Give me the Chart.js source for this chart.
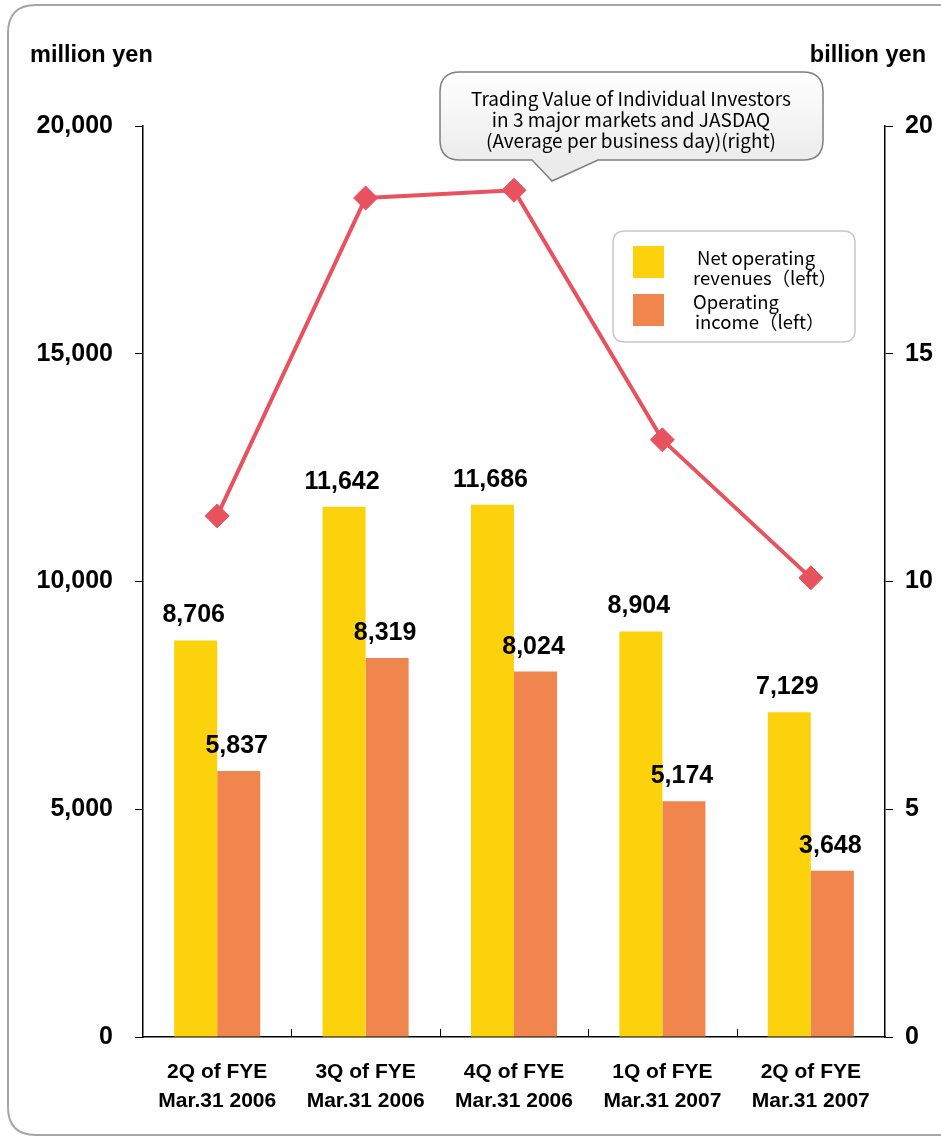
<!DOCTYPE html>
<html>
<head>
<meta charset="utf-8">
<script src="https://cdn.jsdelivr.net/npm/chart.js@4/dist/chart.umd.min.js"></script>
<style>
  html, body { margin: 0; padding: 0; background: #fff; }
  #wrap { width: 941px; height: 1137px; position: relative; }
</style>
</head>
<body>
<div id="wrap"><canvas id="chart"></canvas></div>
<script>
'use strict';

const categories = [
  ['2Q of FYE', 'Mar.31 2006'],
  ['3Q of FYE', 'Mar.31 2006'],
  ['4Q of FYE', 'Mar.31 2006'],
  ['1Q of FYE', 'Mar.31 2007'],
  ['2Q of FYE', 'Mar.31 2007']
];
const netRevenues = [8706, 11642, 11686, 8904, 7129];
const operatingIncome = [5837, 8319, 8024, 5174, 3648];
const tradingValue = [11.44, 18.42, 18.59, 13.11, 10.08];

const leftTicks = [0, 5000, 10000, 15000, 20000];
const rightTicks = [0, 5, 10, 15, 20];

const BOLD = 'bold 25px "Liberation Sans", Arial, sans-serif';
const JP_FONT = '"Noto Sans CJK JP", "Noto Sans", sans-serif';

function roundRect(ctx, x, y, w, h, r) {
  ctx.beginPath();
  ctx.moveTo(x + r, y);
  ctx.lineTo(x + w - r, y);
  ctx.quadraticCurveTo(x + w, y, x + w, y + r);
  ctx.lineTo(x + w, y + h - r);
  ctx.quadraticCurveTo(x + w, y + h, x + w - r, y + h);
  ctx.lineTo(x + r, y + h);
  ctx.quadraticCurveTo(x, y + h, x, y + h - r);
  ctx.lineTo(x, y + r);
  ctx.quadraticCurveTo(x, y, x + r, y);
  ctx.closePath();
}

// frame, axis titles, callout, legend, x tick marks
const decorPlugin = {
  id: 'decor',
  beforeDraw(chart) {
    const ctx = chart.ctx;
    ctx.save();
    ctx.strokeStyle = '#a6a6a6';
    ctx.lineWidth = 2;
    roundRect(ctx, 8, 5, 960, 1130, 28);
    ctx.stroke();
    ctx.restore();
  },
  afterDraw(chart) {
    const ctx = chart.ctx;
    const area = chart.chartArea;
    ctx.save();

    // axis titles
    ctx.fillStyle = '#000';
    ctx.font = 'bold 23.5px "Liberation Sans", Arial, sans-serif';
    ctx.textBaseline = 'alphabetic';
    ctx.textAlign = 'left';
    ctx.fillText('million yen', 30, 62);
    ctx.textAlign = 'right';
    ctx.fillText('billion yen', 926, 62);

    // x tick marks between categories, pointing up
    const xs = chart.scales.x;
    ctx.strokeStyle = '#000';
    ctx.lineWidth = 1;
    for (let i = 1; i < categories.length; i++) {
      const bx = Math.round((xs.getPixelForTick(i - 1) + xs.getPixelForTick(i)) / 2) + 0.5;
      ctx.beginPath();
      ctx.moveTo(bx, area.bottom);
      ctx.lineTo(bx, area.bottom - 8);
      ctx.stroke();
    }

    // callout for line series
    const cx = 440, cy = 72, cw = 383, ch = 88, cr = 20;
    ctx.beginPath();
    ctx.moveTo(cx + cr, cy);
    ctx.lineTo(cx + cw - cr, cy);
    ctx.quadraticCurveTo(cx + cw, cy, cx + cw, cy + cr);
    ctx.lineTo(cx + cw, cy + ch - cr);
    ctx.quadraticCurveTo(cx + cw, cy + ch, cx + cw - cr, cy + ch);
    ctx.lineTo(598, cy + ch);
    ctx.lineTo(552, 181);
    ctx.lineTo(532, cy + ch);
    ctx.lineTo(cx + cr, cy + ch);
    ctx.quadraticCurveTo(cx, cy + ch, cx, cy + ch - cr);
    ctx.lineTo(cx, cy + cr);
    ctx.quadraticCurveTo(cx, cy, cx + cr, cy);
    ctx.closePath();
    const grad = ctx.createLinearGradient(0, cy, 0, cy + ch);
    grad.addColorStop(0, '#ffffff');
    grad.addColorStop(1, '#ececec');
    ctx.fillStyle = grad;
    ctx.fill();
    ctx.strokeStyle = '#7f7f7f';
    ctx.lineWidth = 1.5;
    ctx.stroke();

    ctx.fillStyle = '#000';
    ctx.font = '19px ' + JP_FONT;
    ctx.textAlign = 'center';
    ctx.textBaseline = 'middle';
    ctx.fillText('Trading Value of Individual Investors', 631, 99);
    ctx.fillText('in 3 major markets and JASDAQ', 631, 120);
    ctx.fillText('(Average per business day)(right)', 631, 141);

    // legend box
    const lx = area.right - 30, ly = area.top + 105;
    ctx.strokeStyle = '#c8c8c8';
    ctx.lineWidth = 1.5;
    roundRect(ctx, lx - 242, ly, 242, 111, 12);
    ctx.fillStyle = '#fff';
    ctx.fill();
    ctx.stroke();

    const sets = chart.data.datasets.filter(d => d.type === 'bar');
    ctx.fillStyle = sets[0].backgroundColor;
    ctx.fillRect(lx - 222, ly + 15, 31, 32);
    ctx.fillStyle = sets[1].backgroundColor;
    ctx.fillRect(lx - 222, ly + 63, 31, 32);

    ctx.fillStyle = '#000';
    ctx.font = '18.5px ' + JP_FONT;
    ctx.textAlign = 'left';
    ctx.fillText('Net operating', lx - 158, ly + 27);
    ctx.fillText('revenues（left）', lx - 162, ly + 47);
    ctx.fillText('Operating', lx - 162, ly + 71);
    ctx.fillText('income（left）', lx - 160, ly + 91);

    ctx.restore();
  }
};

// value labels above bars
const barLabelPlugin = {
  id: 'barLabels',
  afterDatasetsDraw(chart) {
    const ctx = chart.ctx;
    ctx.save();
    ctx.font = BOLD;
    ctx.fillStyle = '#000';
    ctx.textAlign = 'center';
    ctx.textBaseline = 'alphabetic';
    chart.data.datasets.forEach(function (ds, i) {
      if (ds.type !== 'bar') return;
      chart.getDatasetMeta(i).data.forEach(function (bar, j) {
        ctx.fillText(ds.data[j].toLocaleString('en-US'), bar.x - 2, bar.y - 18);
      });
    });
    ctx.restore();
  }
};

const ctx = document.getElementById('chart').getContext('2d');
new Chart(ctx, {
  data: {
    labels: categories,
    datasets: [
      {
        type: 'line',
        label: 'Trading Value of Individual Investors',
        data: tradingValue,
        yAxisID: 'y2',
        borderColor: '#e8525e',
        backgroundColor: '#e8525e',
        borderWidth: 4,
        pointStyle: 'rectRot',
        pointRadius: 12,
        pointBorderWidth: 1,
        tension: 0,
        order: 1
      },
      {
        type: 'bar',
        label: 'Net operating revenues (left)',
        data: netRevenues,
        yAxisID: 'y',
        backgroundColor: '#fcd20c',
        barPercentage: 1,
        categoryPercentage: 0.58,
        order: 2
      },
      {
        type: 'bar',
        label: 'Operating income (left)',
        data: operatingIncome,
        yAxisID: 'y',
        backgroundColor: '#f0854d',
        barPercentage: 1,
        categoryPercentage: 0.58,
        order: 2
      }
    ]
  },
  options: {
    responsive: true,
    maintainAspectRatio: false,
    animation: false,
    layout: { padding: { top: 126, left: 0, right: 0, bottom: 0 } },
    plugins: {
      legend: { display: false },
      tooltip: { enabled: false }
    },
    scales: {
      x: {
        offset: true,
        grid: { display: false },
        border: { display: true, color: '#000', width: 1.5 },
        ticks: {
          color: '#000',
          padding: 13,
          font: { family: '"Liberation Sans", Arial, sans-serif', size: 21, weight: 'bold', lineHeight: 1.38 }
        },
        afterFit: function (scale) { scale.height = 100; }
      },
      y: {
        position: 'left',
        min: 0,
        max: 20000,
        afterBuildTicks: function (scale) { scale.ticks = leftTicks.map(v => ({ value: v })); },
        grid: { drawOnChartArea: false, drawTicks: true, tickLength: 8, color: '#000' },
        border: { display: true, color: '#000', width: 1.5 },
        ticks: {
          color: '#000',
          padding: 22,
          font: { family: '"Liberation Sans", Arial, sans-serif', size: 25, weight: 'bold' },
          callback: function (v) { return Number(v).toLocaleString('en-US'); }
        },
        afterFit: function (scale) { scale.width = 143; }
      },
      y2: {
        position: 'right',
        min: 0,
        max: 20,
        afterBuildTicks: function (scale) { scale.ticks = rightTicks.map(v => ({ value: v })); },
        grid: { drawOnChartArea: false, drawTicks: true, tickLength: 8, color: '#000' },
        border: { display: true, color: '#000', width: 1.5 },
        ticks: {
          color: '#000',
          padding: 12,
          font: { family: '"Liberation Sans", Arial, sans-serif', size: 25, weight: 'bold' }
        },
        afterFit: function (scale) { scale.width = 56; }
      }
    }
  },
  plugins: [decorPlugin, barLabelPlugin]
});
</script>
</body>
</html>
